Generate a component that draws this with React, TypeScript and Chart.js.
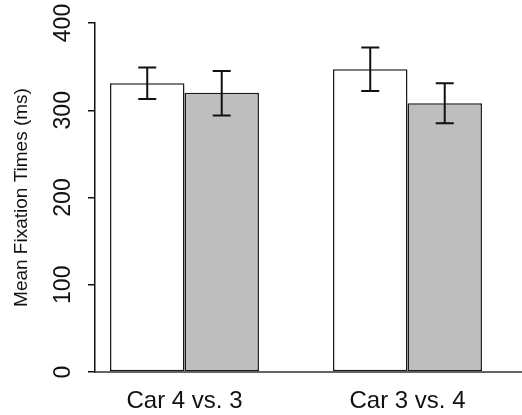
import React, { useEffect, useRef } from "react";
import { Chart, registerables } from "chart.js";

Chart.register(...registerables);

const categories = ["Car 4 vs. 3", "Car 3 vs. 4"];
const seriesWhite = [331, 347];
const seriesGray = [320, 308];
const whiteLower = [313, 322];
const whiteUpper = [349, 372];
const grayLower = [294, 285];
const grayUpper = [345, 331];
const yTicks = [0, 100, 200, 300, 400];
const yTitle = "Mean Fixation Times (ms)";

const FONT = "'Liberation Sans', Arial, sans-serif";

const errorBarPlugin = {
  id: "errorBars",
  afterDatasetsDraw(chart: any) {
    const ctx = chart.ctx;
    const yScale = chart.scales.y;
    chart.data.datasets.forEach((ds: any, di: number) => {
      const meta = chart.getDatasetMeta(di);
      meta.data.forEach((el: any, i: number) => {
        const x = el.x;
        const yTop = yScale.getPixelForValue(ds.upper[i]);
        const yBot = yScale.getPixelForValue(ds.lower[i]);
        ctx.save();
        ctx.strokeStyle = "#111";
        ctx.lineWidth = 2;
        ctx.beginPath();
        ctx.moveTo(x, yTop);
        ctx.lineTo(x, yBot);
        ctx.moveTo(x - 9, yTop);
        ctx.lineTo(x + 9, yTop);
        ctx.moveTo(x - 9, yBot);
        ctx.lineTo(x + 9, yBot);
        ctx.stroke();
        ctx.restore();
      });
    });
  },
};

export default function App() {
  const canvasRef = useRef<HTMLCanvasElement | null>(null);

  useEffect(() => {
    if (!canvasRef.current) return;
    const chart = new Chart(canvasRef.current, {
      type: "bar",
      data: {
        datasets: [
          {
            data: categories.map((_, i) => ({ x: i, y: seriesWhite[i] })),
            backgroundColor: "#ffffff",
            borderColor: "#1a1a1a",
            borderWidth: 1.5,
            borderSkipped: false,
            lower: whiteLower,
            upper: whiteUpper,
          } as any,
          {
            data: categories.map((_, i) => ({ x: i, y: seriesGray[i] })),
            backgroundColor: "#bebebe",
            borderColor: "#1a1a1a",
            borderWidth: 1.5,
            borderSkipped: false,
            lower: grayLower,
            upper: grayUpper,
          } as any,
        ],
      },
      options: {
        responsive: false,
        animation: false,
        devicePixelRatio: 1,
        categoryPercentage: 0.668,
        barPercentage: 1,
        layout: { padding: { top: 23, right: 0, left: 0, bottom: 0 } },
        plugins: {
          legend: { display: false },
          tooltip: { enabled: false },
        },
        scales: {
          x: {
            type: "linear",
            offset: false,
            min: -0.4013,
            max: 1.5135,
            afterBuildTicks: (scale: any) => {
              scale.ticks = categories.map((_, i) => ({ value: i }));
            },
            afterFit: (scale: any) => {
              scale.height = 43;
            },
            grid: { display: false, drawTicks: false },
            border: { display: true, color: "#666666", width: 2 },
            ticks: {
              padding: 15,
              color: "#111",
              font: { family: FONT, size: 24 },
              maxRotation: 0,
              minRotation: 0,
              autoSkip: false,
              callback: (v: any) => categories[Math.round(Number(v))] ?? "",
            },
          },
          y: {
            min: 0,
            max: 400,
            afterBuildTicks: (scale: any) => {
              scale.ticks = yTicks.map((v) => ({ value: v }));
            },
            afterFit: (scale: any) => {
              scale.width = 95;
            },
            grid: {
              display: true,
              drawOnChartArea: false,
              drawTicks: true,
              tickLength: 7,
              color: "#111",
              lineWidth: 1.5,
            },
            border: { display: true, color: "#111", width: 1.5 },
            ticks: {
              minRotation: 90,
              maxRotation: 90,
              crossAlign: "center",
              padding: 5,
              color: "#111",
              font: { family: FONT, size: 23 },
              callback: (v: any) => String(v),
            },
            title: {
              display: true,
              text: yTitle,
              color: "#111",
              font: { family: FONT, size: 19 },
              padding: { top: 10, bottom: 0 },
            },
          },
        },
      } as any,
      plugins: [errorBarPlugin],
    });
    return () => chart.destroy();
  }, []);

  return (
    <div style={{ position: "absolute", left: 0, top: 0, width: 522, height: 415, background: "#fff" }}>
      <canvas ref={canvasRef} width={522} height={415} />
    </div>
  );
}
